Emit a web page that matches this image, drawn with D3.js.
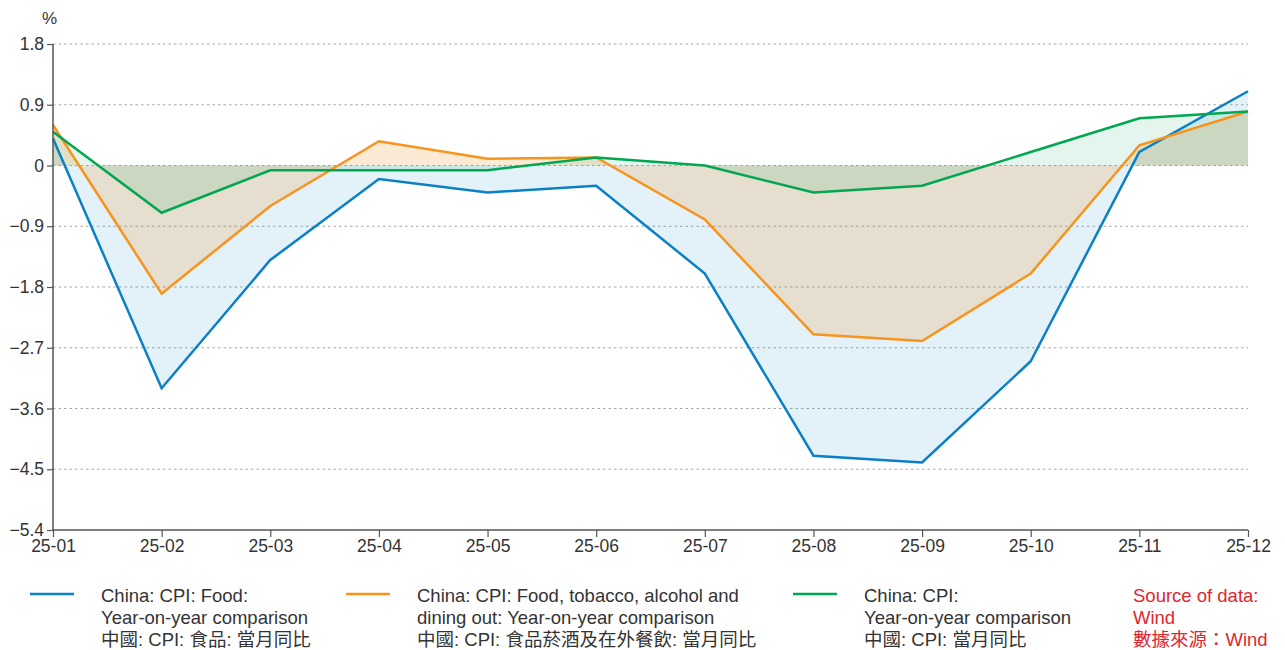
<!DOCTYPE html>
<html>
<head>
<meta charset="utf-8">
<script src="https://cdn.jsdelivr.net/npm/d3@7"></script>
<style>
  body { margin: 0; background: #fff; }
  .tick text { font-family: "Liberation Sans", Arial, sans-serif; font-size: 17.5px; fill: #333; }
  .legend-text { font-family: "Liberation Sans", Arial, "Noto Sans CJK TC", sans-serif; font-size: 18.5px; fill: #333; }
  .source-text { font-family: "Liberation Sans", Arial, "Noto Sans CJK TC", sans-serif; font-size: 18.5px; fill: #e0262e; }
  .unit-label { font-family: "Liberation Sans", Arial, sans-serif; font-size: 17px; fill: #333; }
</style>
</head>
<body>
<div id="chart"></div>
<script>
// Data
const months = ["25-01", "25-02", "25-03", "25-04", "25-05", "25-06", "25-07", "25-08", "25-09", "25-10", "25-11", "25-12"];
const foodYoY = [0.4, -3.3, -1.4, -0.2, -0.4, -0.3, -1.6, -4.3, -4.4, -2.9, 0.2, 1.1];
const foodTobaccoYoY = [0.6, -1.9, -0.6, 0.36, 0.1, 0.12, -0.8, -2.5, -2.6, -1.6, 0.3, 0.8];
const cpiYoY = [0.5, -0.7, -0.07, -0.07, -0.07, 0.12, 0, -0.4, -0.3, 0.2, 0.7, 0.8];
const yTicks = [1.8, 0.9, 0, -0.9, -1.8, -2.7, -3.6, -4.5, -5.4];

const seriesNames = [
    ["China: CPI: Food:", "Year-on-year comparison", "中國: CPI: 食品: 當月同比"],
    ["China: CPI: Food, tobacco, alcohol and", "dining out: Year-on-year comparison", "中國: CPI: 食品菸酒及在外餐飲: 當月同比"],
    ["China: CPI:", "Year-on-year comparison", "中國: CPI: 當月同比"]
];
const sourceLines = ["Source of data:", "Wind", "數據來源：Wind"];

const width = 1285;
const height = 650;
const margin = { top: 44, right: 37, bottom: 120, left: 53 };
const innerWidth = width - margin.left - margin.right;
const innerHeight = height - margin.top - margin.bottom;

const series = [
    { values: foodYoY, color: "#0a80c6", fill: "#0080c8", fillOpacity: 0.11 },
    { values: foodTobaccoYoY, color: "#f7941d", fill: "#f5901a", fillOpacity: 0.19 },
    { values: cpiYoY, color: "#00a651", fill: "#00a651", fillOpacity: 0.11 }
];

const svg = d3.select("#chart")
    .append("svg")
    .attr("width", width)
    .attr("height", height);

const inner = svg.append("g")
    .attr("transform", `translate(${margin.left},${margin.top})`);

const xScale = d3.scalePoint()
    .domain(months)
    .range([0, innerWidth]);

const yScale = d3.scaleLinear()
    .domain([-5.4, 1.8])
    .range([innerHeight, 0]);

// Dotted gridlines
inner.append("g")
    .selectAll("line")
    .data(yTicks.filter(d => d !== -5.4))
    .join("line")
    .attr("x1", 0)
    .attr("x2", innerWidth)
    .attr("y1", d => yScale(d))
    .attr("y2", d => yScale(d))
    .attr("stroke", "#a8a8a8")
    .attr("stroke-width", 1.2)
    .attr("stroke-dasharray", "2.5,3");

// Areas to zero
const area = d3.area()
    .x((d, i) => xScale(months[i]))
    .y0(yScale(0))
    .y1(d => yScale(d));

series.forEach(s => {
    inner.append("path")
        .datum(s.values)
        .attr("d", area)
        .attr("fill", s.fill)
        .attr("fill-opacity", s.fillOpacity);
});

// Lines
const line = d3.line()
    .x((d, i) => xScale(months[i]))
    .y(d => yScale(d));

series.forEach(s => {
    inner.append("path")
        .datum(s.values)
        .attr("d", line)
        .attr("fill", "none")
        .attr("stroke", s.color)
        .attr("stroke-width", 2.5)
        .attr("stroke-linejoin", "miter");
});

// Axes
const leftAxis = d3.axisLeft(yScale)
    .tickValues(yTicks)
    .tickFormat(d => d === 0 ? "0" : d3.format(".1f")(d))
    .tickSize(6)
    .tickPadding(3);

const yAxisG = inner.append("g").call(leftAxis);
yAxisG.select(".domain").attr("stroke", "#555").attr("stroke-width", 1.5).attr("d", `M0,0V${innerHeight}`);
yAxisG.selectAll(".tick line").attr("stroke", "#555").attr("stroke-width", 1.2);

const bottomAxis = d3.axisBottom(xScale)
    .tickSize(7)
    .tickPadding(3);

const xAxisG = inner.append("g")
    .attr("transform", `translate(0,${innerHeight})`)
    .call(bottomAxis);
xAxisG.select(".domain").attr("stroke", "#555").attr("stroke-width", 1.5).attr("d", `M0,0H${innerWidth}`);
xAxisG.selectAll(".tick line").attr("stroke", "#555").attr("stroke-width", 1.2);

svg.append("text")
    .text("%")
    .attr("x", 42)
    .attr("y", 24)
    .attr("class", "unit-label");

// Legend
const legendX = [30, 346, 793];
seriesNames.forEach((lines, i) => {
    const g = svg.append("g")
        .attr("transform", `translate(${legendX[i]}, 594)`);
    g.append("line")
        .attr("x1", 0)
        .attr("x2", 44)
        .attr("y1", 0)
        .attr("y2", 0)
        .attr("stroke", series[i].color)
        .attr("stroke-width", 2.5);
    lines.forEach((t, j) => {
        g.append("text")
            .attr("x", 71)
            .attr("y", 8 + j * 22)
            .attr("class", "legend-text")
            .text(t);
    });
});

sourceLines.forEach((t, j) => {
    svg.append("text")
        .attr("x", 1133)
        .attr("y", 602 + j * 22)
        .attr("class", "source-text")
        .text(t);
});
</script>
</body>
</html>
